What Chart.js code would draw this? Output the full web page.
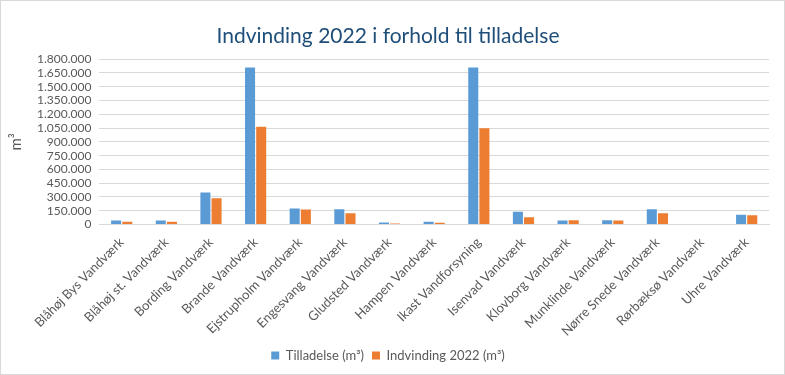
<!DOCTYPE html>
<html>
<head>
<meta charset="utf-8">
<script src="https://cdn.jsdelivr.net/npm/chart.js@4"></script>
<style>
html,body{margin:0;padding:0;background:#fff;}
#wrap{width:785px;height:375px;box-sizing:border-box;border:1px solid #d9d9d9;position:relative;}
canvas{display:block;}
</style>
</head>
<body>
<div id="wrap"><canvas id="c" width="783" height="373"></canvas></div>
<script>
const categories = ["Blåhøj Bys Vandværk","Blåhøj st. Vandværk","Bording Vandværk","Brande Vandværk","Ejstrupholm Vandværk","Engesvang Vandværk","Gludsted Vandværk","Hampen Vandværk","Ikast Vandforsyning","Isenvad Vandværk","Klovborg Vandværk","Munklinde Vandværk","Nørre Snede Vandværk","Rørbæksø Vandværk","Uhre Vandværk"];
const tilladelse = [43000, 43000, 348000, 1710000, 174000, 166000, 22000, 29000, 1710000, 138000, 43000, 47000, 166000, 0, 105000];
const indvinding = [29000, 29000, 286000, 1065000, 163000, 123000, 11000, 18000, 1048000, 80000, 47000, 43000, 123000, 0, 101000];
const seriesNames = ["Tilladelse (m³)", "Indvinding 2022 (m³)"];
const titleText = "Indvinding 2022 i forhold til tilladelse";
const yAxisTitle = "m³";

function fmt(v){ return String(v).replace(/\B(?=(\d{3})+(?!\d))/g, "."); }

new Chart(document.getElementById('c'), {
  type: 'bar',
  data: {
    labels: categories,
    datasets: [
      {label: seriesNames[0], data: tilladelse, backgroundColor: '#5B9BD5', categoryPercentage: 0.5, barPercentage: 0.9},
      {label: seriesNames[1], data: indvinding, backgroundColor: '#ED7D31', categoryPercentage: 0.5, barPercentage: 0.9}
    ]
  },
  options: {
    responsive: false,
    animation: false,
    layout: {padding: {left: 6, right: 15, top: 21, bottom: 2}},
    plugins: {
      title: {display: true, text: titleText, color: '#1f4e79', font: {family: 'Lato', size: 21, weight: '400'}, padding: {top: 2, bottom: 10}},
      legend: {position: 'bottom', labels: {boxWidth: 8, boxHeight: 8, color: '#595959', font: {family: 'Lato', size: 13}, padding: 8}},
      tooltip: {enabled: false}
    },
    scales: {
      x: {
        grid: {display: false},
        border: {color: '#d9d9d9'},
        ticks: {color: '#595959', font: {family: 'Lato', size: 13}, minRotation: 45, maxRotation: 45, autoSkip: false, padding: 2}
      },
      y: {
        min: 0, max: 1800000,
        grid: {color: '#d9d9d9', drawTicks: false},
        border: {display: false},
        ticks: {stepSize: 150000, autoSkip: false, color: '#595959', font: {family: 'Lato', size: 12}, padding: 8, callback: v => fmt(v)},
        title: {display: true, text: yAxisTitle, color: '#595959', font: {family: 'Lato', size: 15}, padding: {top: 0, bottom: 4}}
      }
    }
  }
});
</script>
</body>
</html>
